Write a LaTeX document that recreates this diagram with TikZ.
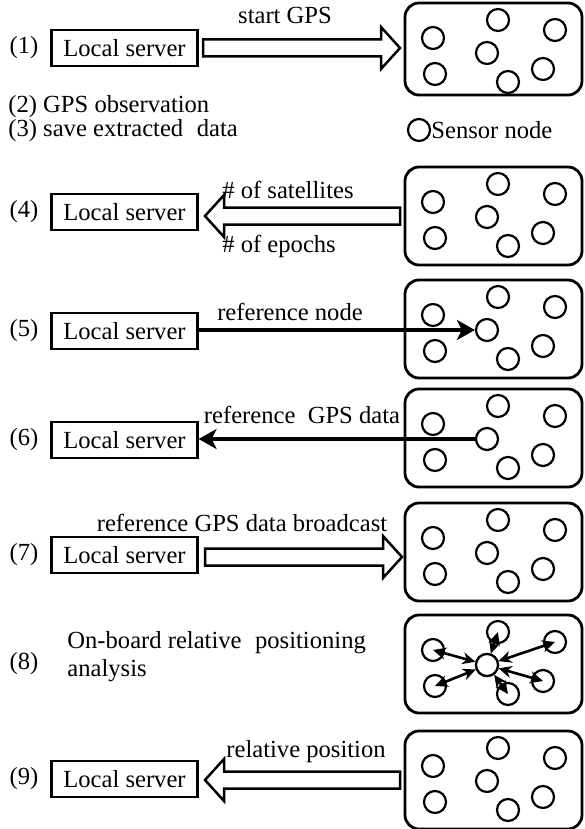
\documentclass[tikz,border=0pt]{standalone}
\usepackage{fontspec}
\setmainfont{Liberation Serif}
\usetikzlibrary{arrows.meta,calc}
\newcommand{\sensorpanel}[3][49]{%
  \node[panel,minimum height=#1pt*2/2] (#2) at (493.5,#3+#1) {};
  \foreach \i/\dx/\dy in {1/28/35,2/93/17,3/150/27,4/82/50,5/30/71,6/103/79,7/138/66}
    \node[sensor] (#2-\i) at (405+\dx,#3+\dy) {};
}
% hollow block arrows: #1 tail x, #2 tip x, #3 y ; R points right, L points left
\newcommand{\hollowR}[3]{%
  \draw[hollowline] (#1,#3-8.5) -- (#2-19,#3-8.5) -- (#2-19,#3-21) -- (#2,#3)
    -- (#2-19,#3+21) -- (#2-19,#3+8.5) -- (#1,#3+8.5) -- cycle;}
\newcommand{\hollowL}[3]{%
  \draw[hollowline] (#1,#3-8.5) -- (#2+19,#3-8.5) -- (#2+19,#3-21) -- (#2,#3)
    -- (#2+19,#3+21) -- (#2+19,#3+8.5) -- (#1,#3+8.5) -- cycle;}
\begin{document}
\begin{tikzpicture}[x=0.5pt,y=-0.5pt,
  font=\fontsize{12.3}{14}\selectfont,
  box/.style={draw,line width=1.1pt,minimum width=73pt,minimum height=18pt,inner sep=0pt},
  panel/.style={draw,line width=1.4pt,rounded corners=7pt,minimum width=88.5pt,inner sep=0pt},
  sensor/.style={draw,circle,line width=1.1pt,minimum size=11pt,inner sep=0pt,fill=white},
  hollowline/.style={draw,line width=1.25pt,line join=miter,fill=white},
  thickarrow/.style={line width=2pt,-{Stealth[length=9pt,width=10pt,inset=2.5pt]}},
  stararrow/.style={line width=1.3pt,{Stealth[length=6.5pt,width=6pt]}-{Stealth[length=6.5pt,width=6pt]}},
  lbl/.style={inner sep=0pt}
]
\useasboundingbox (0,0) rectangle (584,829);

% Row 1
\sensorpanel[46]{p1}{3}
\node[lbl] (n1) at (24,48) {(1)};
\node[box] (b1) at (124.5,48) {Local server};
\hollowR{203}{400}{48}
\node[lbl] (t1) at (285,15) {start GPS};
\node[lbl,anchor=west] (t2) at (8,107) {(2) GPS observation};
\node[lbl,anchor=west] (t3) at (8,131) {(3) save extracted\hspace{0.3em} data};
\node[sensor] (leg) at (419,130) {};
\node[lbl,anchor=west] (legt) at (431,130) {Sensor node};

% Row 4
\sensorpanel{p4}{167}
\node[lbl] (n4) at (24,212) {(4)};
\node[box] (b4) at (124.5,212) {Local server};
\hollowL{400}{205}{216}
\node[lbl,anchor=west] (t4a) at (222,190) {\# of satellites};
\node[lbl,anchor=west] (t4b) at (222,246) {\# of epochs};

% Row 5
\sensorpanel{p5}{280}
\node[lbl] (n5) at (24,331) {(5)};
\node[box] (b5) at (124.5,331) {Local server};
\draw[thickarrow] (b5.east |- p5-4.west) -- (p5-4.west);
\node[lbl] (t5) at (290,312) {reference node};

% Row 6
\sensorpanel{p6}{389}
\node[lbl] (n6) at (24,440) {(6)};
\node[box] (b6) at (124.5,440) {Local server};
\draw[thickarrow] (p6-4.west) -- (b6.east |- p6-4.west);
\node[lbl] (t6) at (302,415) {reference\hspace{0.25em} GPS data};

% Row 7
\sensorpanel{p7}{503}
\node[lbl] (n7) at (24,555) {(7)};
\node[box] (b7) at (124.5,555) {Local server};
\hollowR{205}{402}{557}
\node[lbl] (t7) at (242,523) {reference GPS data broadcast};

% Row 8
\sensorpanel{p8}{615}
\node[lbl] (n8) at (24,664) {(8)};
\node[lbl,anchor=west,align=left] (t8) at (67,657) {On-board relative\hspace{0.3em} positioning\\analysis};
\foreach \i in {1,2,3,5,6,7}
  \draw[stararrow] (p8-4) -- (p8-\i.center);
\node[sensor] at (p8-4) {};

% Row 9
\sensorpanel{p9}{731}
\node[lbl] (n9) at (24,779) {(9)};
\node[box] (b9) at (124.5,779) {Local server};
\hollowL{400}{205}{780}
\node[lbl] (t9) at (306,752) {relative position};
\end{tikzpicture}
\end{document}
